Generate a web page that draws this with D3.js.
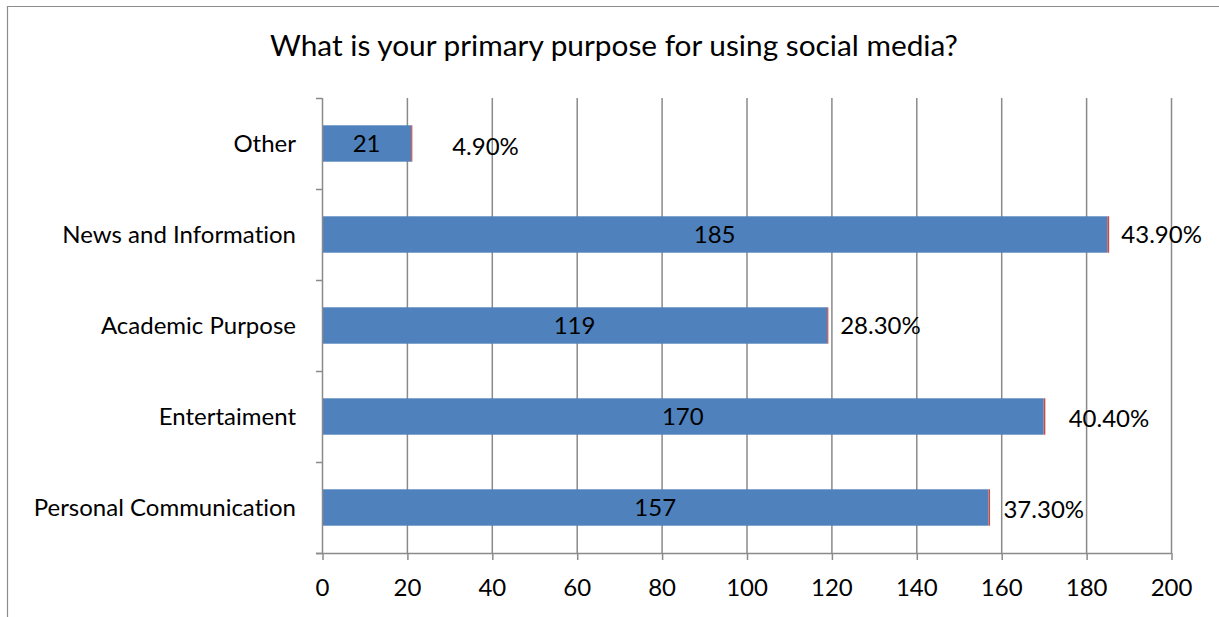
<!DOCTYPE html>
<html>
<head>
<meta charset="utf-8">
<script src="https://cdn.jsdelivr.net/npm/d3@7"></script>
<style>
  html, body { margin: 0; padding: 0; background: #fff; }
  svg { display: block; }
  text { font-family: Lato, Carlito, "Open Sans", sans-serif; fill: #000;
         font-variant-ligatures: none; font-feature-settings: "liga" 0, "clig" 0; }
</style>
</head>
<body>
<svg id="chart" width="1219" height="617"></svg>
<script>
// Survey responses: primary purpose for using social media
const categories = ["Personal Communication", "Entertaiment", "Academic Purpose", "News and Information", "Other"];
const counts = [157, 170, 119, 185, 21];
const percents = [37.3, 40.4, 28.3, 43.9, 4.9];
const xTicks = [0, 20, 40, 60, 80, 100, 120, 140, 160, 180, 200];

const svg = d3.select("#chart");
const W = 1219, H = 617;
const margin = { left: 322, right: 48, top: 98, bottom: 64 };
const FS = 24;

// outer chart frame (extends past the visible area on the right and bottom)
svg.append("path")
  .attr("d", `M7.5,${H + 2}V6.5H${W + 2}`)
  .attr("fill", "none").attr("stroke", "#8c8c8c").attr("stroke-width", 1.2);

svg.append("text")
  .attr("x", 614).attr("y", 56)
  .attr("text-anchor", "middle")
  .attr("font-size", 29.8)
  .text("What is your primary purpose for using social media?");

const x = d3.scaleLinear().domain([0, 200]).range([margin.left, W - margin.right]);
// categories listed bottom to top
const y = d3.scaleBand().domain(categories.slice().reverse())
  .range([margin.top, H - margin.bottom]).paddingInner(0.6).paddingOuter(0.3);
const bandStep = y.step();
const yTop = margin.top, yBot = H - margin.bottom;

// vertical gridlines
svg.append("g").selectAll("line").data(xTicks.slice(1)).join("line")
  .attr("x1", d => x(d) + 0.5).attr("x2", d => x(d) + 0.5)
  .attr("y1", yTop).attr("y2", yBot)
  .attr("stroke", "#8a8a8a").attr("stroke-width", 1.5);

// bars: counts, with the percentage series stacked on the end
const rows = categories.map((c, i) => ({ cat: c, count: counts[i], pct: percents[i] }));
const bars = svg.append("g");
bars.selectAll("rect.count").data(rows).join("rect")
  .attr("class", "count")
  .attr("x", x(0)).attr("y", d => y(d.cat))
  .attr("width", d => x(d.count) - x(0)).attr("height", y.bandwidth())
  .attr("fill", "#4f81bd");
bars.selectAll("rect.pct").data(rows).join("rect")
  .attr("class", "pct")
  .attr("x", d => x(d.count)).attr("y", d => y(d.cat))
  .attr("width", d => Math.max(1.2, x(d.count + d.pct / 100) - x(d.count)))
  .attr("height", y.bandwidth())
  .attr("fill", "#c0504d");

// value labels inside the bars
bars.selectAll("text.count").data(rows).join("text")
  .attr("class", "count")
  .attr("x", d => (x(0) + x(d.count)) / 2)
  .attr("y", d => y(d.cat) + y.bandwidth() / 2 + 8.5)
  .attr("text-anchor", "middle").attr("font-size", FS)
  .text(d => d.count);

// percentage labels beside the bars (hand-nudged placement)
const pctNudge = { "Other": [41, 3], "News and Information": [14, 0], "Academic Purpose": [13, 0],
                   "Entertaiment": [25, 2], "Personal Communication": [15, 2] };
bars.selectAll("text.pct").data(rows).join("text")
  .attr("class", "pct")
  .attr("x", d => x(d.count) + pctNudge[d.cat][0])
  .attr("y", d => y(d.cat) + y.bandwidth() / 2 + 8.5 + pctNudge[d.cat][1])
  .attr("text-anchor", "start").attr("font-size", FS)
  .text(d => d.pct.toFixed(2) + "%");

// y axis: line with tick marks on band boundaries
const yAxis = svg.append("g");
yAxis.append("line")
  .attr("x1", x(0) + 0.5).attr("x2", x(0) + 0.5).attr("y1", yTop).attr("y2", yBot)
  .attr("stroke", "#8a8a8a").attr("stroke-width", 1.5);
yAxis.selectAll("line.tick").data(d3.range(categories.length + 1)).join("line")
  .attr("class", "tick")
  .attr("x1", x(0) - 6).attr("x2", x(0))
  .attr("y1", i => yTop + i * bandStep + 0.5).attr("y2", i => yTop + i * bandStep + 0.5)
  .attr("stroke", "#8a8a8a").attr("stroke-width", 1.5);
yAxis.selectAll("text").data(categories).join("text")
  .attr("x", x(0) - 26)
  .attr("y", d => y(d) + y.bandwidth() / 2 + 8.5)
  .attr("text-anchor", "end").attr("font-size", FS)
  .text(d => d);

// x axis
const xAxis = svg.append("g").attr("transform", `translate(0,${yBot})`)
  .call(d3.axisBottom(x).tickValues(xTicks).tickSize(7).tickSizeOuter(0));
xAxis.select(".domain").attr("stroke", "#8a8a8a").attr("stroke-width", 1.5)
  .attr("d", `M${x(0) - 6},0.5H${x(200) + 0.5}`);
xAxis.selectAll(".tick line").attr("stroke", "#8a8a8a").attr("stroke-width", 1.5)
  .attr("transform", "translate(0.5,0)");
xAxis.selectAll(".tick text")
  .attr("y", 43).attr("dy", null)
  .attr("font-size", FS).attr("font-family", "Lato, Carlito, sans-serif").attr("fill", "#000");
</script>
</body>
</html>
